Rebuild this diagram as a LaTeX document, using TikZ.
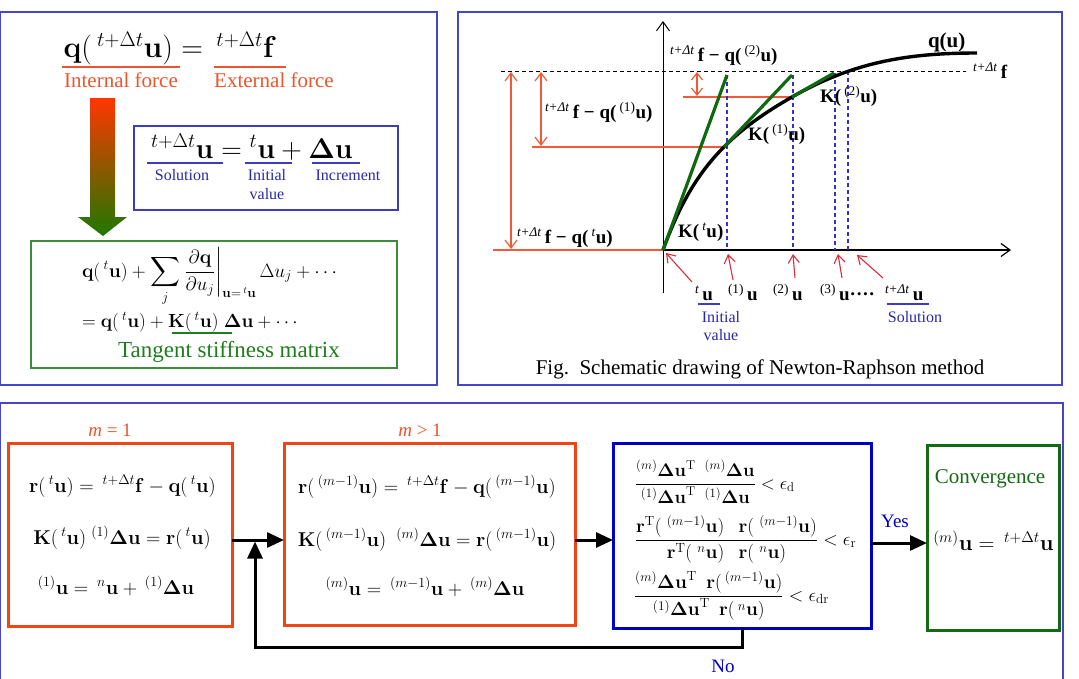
\RequirePackage{fix-cm}
\documentclass[tikz,border=0pt]{standalone}
\usepackage{amsmath}
\usepackage[no-math]{fontspec}
\setmainfont{Liberation Serif}
\usetikzlibrary{arrows.meta}
\definecolor{panelblue}{RGB}{70,70,200}
\definecolor{forceorange}{RGB}{235,85,45}
\definecolor{textblue}{RGB}{40,40,170}
\definecolor{ublue}{RGB}{60,60,190}
\definecolor{gboxgreen}{RGB}{60,140,60}
\definecolor{tgreen}{RGB}{30,125,30}
\definecolor{arrowtop}{RGB}{255,55,0}
\definecolor{arrowbot}{RGB}{30,120,0}
\definecolor{redline}{RGB}{240,90,55}
\definecolor{pointred}{RGB}{220,45,60}
\definecolor{dashblue}{RGB}{50,50,200}
\definecolor{tangreen}{RGB}{15,105,15}
\definecolor{boxorange}{RGB}{240,70,20}
\definecolor{boxblue}{RGB}{0,0,195}
\definecolor{boxgreen}{RGB}{20,105,20}
\newcommand\setfs[1]{\fontsize{#1}{#1}\selectfont}
\newcommand\sps[1]{\textsuperscript{\mdseries #1}}
\tikzset{
  panel/.style={draw=panelblue, line width=1.4},
  plain/.style={inner sep=0, outer sep=0},
  glabel/.style={plain, anchor=base west, font=\setfs{19}\bfseries},
  bluelabel/.style={plain, anchor=base, font=\setfs{16}, text=textblue},
  redl/.style={draw=redline, line width=1.2},
  dbl/.style={redl, {Straight Barb[length=8pt,width=12pt]}-{Straight Barb[length=8pt,width=12pt]}},
  pointer/.style={draw=pointred, line width=1.1, -{Straight Barb[length=8pt,width=11pt]}},
  vdash/.style={draw=dashblue, line width=1.1, dash pattern=on 4pt off 3pt},
  tangent/.style={draw=tangreen, line width=3.2},
  flowbox/.style={plain, line width=3, minimum width=#1},
  flowline/.style={line width=3, draw=black},
  flowarrow/.style={flowline, -{Triangle[length=17pt,width=15pt]}},
  eqn/.style={plain, anchor=base},
  eqw/.style={plain, anchor=base west},
}
\begin{document}
\begin{tikzpicture}[x=1pt,y=-1pt]
\useasboundingbox (0,0) rectangle (1079,678);
\clip (0,0) rectangle (1079,678);
% panels
\draw[panel] (0.7,12) rectangle (437,385);
\draw[panel] (458,12) rectangle (1062,385);
\draw[panel] (0.7,690) -- (0.7,403) -- (1063,403) -- (1063,690);

% ---------------- top-left panel
\node[eqn, font=\setfs{30}] (eqq) at (170,57) {$\mathbf q(\,{}^{t+\Delta t}\mathbf u) = \,{}^{t+\Delta t}\mathbf f$};
\draw[draw=forceorange, line width=1.5] (62,67) -- (180,67);
\draw[draw=forceorange, line width=1.5] (214,67) -- (286,67);
\node[eqn, font=\setfs{21}, text=forceorange] (intf) at (121,87) {Internal force};
\node[eqn, font=\setfs{21}, text=forceorange] (extf) at (274,87) {External force};
\shade[top color=arrowtop, bottom color=arrowbot] (90,98) -- (115,98) -- (115,217) -- (127,217) -- (103,236) -- (78,217) -- (90,217) -- cycle;

\node[plain, draw=ublue, line width=1.3, minimum width=264, minimum height=84] (ubox) at (266,168) {};
\node[eqn, font=\setfs{28.5}] (ueq) at (252,158) {${}^{t+\Delta t}\mathbf u = {}^{t}\mathbf u + \mathbf{\Delta u}$};
\draw[draw=ublue, line width=1.5] (147,163) -- (223,163);
\draw[draw=ublue, line width=1.5] (245,163) -- (292,163);
\draw[draw=ublue, line width=1.5] (312,163) -- (360,163);
\node[bluelabel] (sol) at (182,180) {Solution};
\node[bluelabel] (init) at (267,180) {Initial};
\node[bluelabel] (val) at (267,199) {value};
\node[bluelabel] (incr) at (348,180) {Increment};

\node[plain, draw=gboxgreen, line width=1.3, minimum width=366, minimum height=127] (tbox) at (214,304.5) {};
\node[eqw, font=\setfs{19.3}] (tl1) at (82,277) {$\displaystyle \mathbf q(\,{}^t\mathbf u) + \sum_j \left.\frac{\partial \mathbf q}{\partial u_j}\right|_{\mathbf u=\,{}^t\mathbf u}\Delta u_j + \cdots$};
\node[eqw, font=\setfs{19}] (tl2) at (82,327) {$= \mathbf q(\,{}^t\mathbf u) + \mathbf K(\,{}^t\mathbf u)\;\mathbf{\Delta u} + \cdots$};
\draw[draw=tgreen, line width=1.2] (172,333) -- (232,333);
\node[eqn, font=\setfs{23}, text=tgreen] (tsm) at (229,357) {Tangent stiffness matrix};

% ---------------- top-right panel (graph)
\coordinate (O) at (663,250);
\coordinate (ybot) at (663,293);
\coordinate (ytop) at (663,21);
\coordinate (xend) at (1011,250);
\coordinate (xleft) at (493,250);
\draw[line width=1, -{Straight Barb[length=9pt,width=13pt]}] (ybot) -- (ytop);
\draw[line width=1.2, -{Straight Barb[length=9pt,width=13pt]}] (O) -- (xend);
\draw[redl] (xleft) -- (O);
\draw[line width=1, dash pattern=on 4pt off 3pt] (501,71) -- (966,71);

\coordinate (P1) at (724,147);
\coordinate (P2) at (792,97);
\coordinate (T0) at (727,75);
\coordinate (T1) at (792,75);
\coordinate (T2) at (834,73);
\draw[redl] (532,147) -- (P1);
\draw[redl] (683,97) -- (P2);
\draw[dbl] (511,72) -- (511,249);
\draw[dbl] (541,72) -- (541,146);
\draw[redl, {Straight Barb[length=7pt,width=11pt]}-{Straight Barb[length=7pt,width=11pt]}] (697,72) -- (697,96);

\draw[vdash] (727,75) -- (727,250);
\draw[vdash] (793,75) -- (793,250);
\draw[vdash] (835,73) -- (835,250);
\draw[vdash] (848,71) -- (848,250);

\draw[line width=3.4] (O) .. controls (690.4,174.9) and (722.6,136.7) .. (P2) .. controls (852.8,62.3) and (907,53) .. (977,53);
\draw[tangent] (O) -- (T0);
\draw[tangent] (P1) -- (T1);
\draw[tangent] (P2) -- (T2);

\node[glabel] (l2) at (670,61) {\sps{\itshape t+Δt}\,f − q(\,\sps{(2)}u)};
\node[glabel] (l1) at (545,118) {\sps{\itshape t+Δt}\,f − q(\,\sps{(1)}u)};
\node[glabel] (l0) at (517,243) {\sps{\itshape t+Δt}\,f − q(\,\sps{\itshape t}u)};
\node[glabel] (k1) at (748,140) {K(\,\sps{(1)}u)};
\node[glabel] (k2) at (820,102) {K(\,\sps{(2)}u)};
\node[glabel] (k0) at (678,237) {K(\,\sps{\itshape t}u)};
\node[glabel, font=\setfs{21}\bfseries] (qu) at (928,47) {q(u)};
\node[glabel] (ff) at (973,78) {\sps{\itshape t+Δt}\,f};

\node[glabel] (u0) at (695,300) {\sps{\itshape t}\,u};
\node[glabel] (u1) at (728,300) {\sps{(1)}\,u};
\node[glabel] (u2) at (773,300) {\sps{(2)}\,u};
\node[glabel] (u3) at (820,300) {\sps{(3)}\,u····};
\node[glabel] (us) at (885,300) {\sps{\itshape t+Δt}\,u};
\draw[draw=ublue, line width=1.4] (698,304) -- (720,304);
\draw[draw=ublue, line width=1.4] (887,304) -- (929,304);
\node[bluelabel] (init2) at (721,322) {Initial};
\node[bluelabel] (val2) at (721,340) {value};
\node[bluelabel] (sol2) at (915,322) {Solution};

\draw[pointer] (692,282) -- (666,253);
\draw[pointer] (733,280) -- (728,254);
\draw[pointer] (795,278) -- (793,254);
\draw[pointer] (842,278) -- (838,254);
\draw[pointer] (883,278) -- (857,255);

\node[eqn, font=\setfs{21}] (cap) at (760,374) {Fig.\ \ Schematic drawing of Newton-Raphson method};

% ---------------- bottom panel (flow)
\node[flowbox=224, draw=boxorange, minimum height=183] (b1) at (120,534.5) {};
\node[flowbox=291, draw=boxorange, minimum height=182] (b2) at (429.5,534) {};
\node[flowbox=258, draw=boxblue, minimum height=185] (b3) at (742,535.5) {};
\node[flowbox=132, draw=boxgreen, minimum height=185] (b4) at (993,537.5) {};

\node[eqn, font=\setfs{19}, text=forceorange] (m1) at (110,436) {\textit{m} = 1};
\node[eqn, font=\setfs{19}, text=forceorange] (m2) at (420,436) {\textit{m} > 1};

\node[eqn, font=\setfs{20}] (a1) at (122.5,492) {$\mathbf r(\,{}^t\mathbf u) = \,{}^{t+\Delta t}\mathbf f - \mathbf q(\,{}^t\mathbf u)$};
\node[eqn, font=\setfs{20}] (a2) at (122,544) {$\mathbf K(\,{}^t\mathbf u)\ {}^{(1)}\mathbf{\Delta u} = \mathbf r(\,{}^t\mathbf u)$};
\node[eqn, font=\setfs{20}] (a3) at (116,594) {${}^{(1)}\mathbf u = \,{}^{n}\mathbf u + \,{}^{(1)}\mathbf{\Delta u}$};

\node[eqn, font=\setfs{20}] (c1) at (427,493) {$\mathbf r(\,{}^{(m-1)}\mathbf u) = \,{}^{t+\Delta t}\mathbf f - \mathbf q(\,{}^{(m-1)}\mathbf u)$};
\node[eqn, font=\setfs{20}] (c2) at (427,546) {$\mathbf K(\,{}^{(m-1)}\mathbf u)\ \ {}^{(m)}\mathbf{\Delta u} = \mathbf r(\,{}^{(m-1)}\mathbf u)$};
\node[eqn, font=\setfs{20}] (c3) at (425,595) {${}^{(m)}\mathbf u = \,{}^{(m-1)}\mathbf u + \,{}^{(m)}\mathbf{\Delta u}$};

\node[eqw, font=\setfs{18.3}] (d1) at (635,489) {$\displaystyle\frac{{}^{(m)}\mathbf{\Delta u}^{\mathrm T}\ \ {}^{(m)}\mathbf{\Delta u}}{{}^{(1)}\mathbf{\Delta u}^{\mathrm T}\ \ {}^{(1)}\mathbf{\Delta u}} < \epsilon_{\mathrm d}$};
\node[eqw, font=\setfs{19}] (d2) at (635,545) {$\displaystyle\frac{\mathbf r^{\mathrm T}(\;{}^{(m-1)}\mathbf u)\ \ \ \mathbf r(\;{}^{(m-1)}\mathbf u)}{\mathbf r^{\mathrm T}(\;{}^{n}\mathbf u)\ \ \ \mathbf r(\;{}^{n}\mathbf u)} < \epsilon_{\mathrm r}$};
\node[eqw, font=\setfs{19}] (d3) at (634,601) {$\displaystyle\frac{{}^{(m)}\mathbf{\Delta u}^{\mathrm T}\ \ \mathbf r(\,{}^{(m-1)}\mathbf u)}{{}^{(1)}\mathbf{\Delta u}^{\mathrm T}\ \ \mathbf r(\,{}^{n}\mathbf u)} < \epsilon_{\mathrm{dr}}$};

\node[eqn, font=\setfs{21}, text=boxgreen] (conv) at (990,483) {Convergence};
\node[eqn, font=\setfs{22}] (e1) at (993.5,550) {${}^{(m)}\mathbf u = \,{}^{t+\Delta t}\mathbf u$};

\node[eqn, font=\setfs{19}, text=boxblue] (yes) at (895,527) {Yes};
\node[eqn, font=\setfs{19}, text=boxblue] (no) at (723,672) {No};

\coordinate (rowA) at (0,540);
\coordinate (rowB) at (0,543);
\coordinate (fb) at (255,647);
\draw[flowarrow] (b1.east |- rowA) -- (b2.west |- rowA);
\draw[flowarrow] (b2.east |- rowA) -- (b3.west |- rowA);
\draw[flowarrow] (b3.east |- rowB) -- (b4.west |- rowB);
\draw[flowarrow, shorten >=1.5pt] (b3.south) |- (fb) -- (fb |- rowA);
\end{tikzpicture}
\end{document}
